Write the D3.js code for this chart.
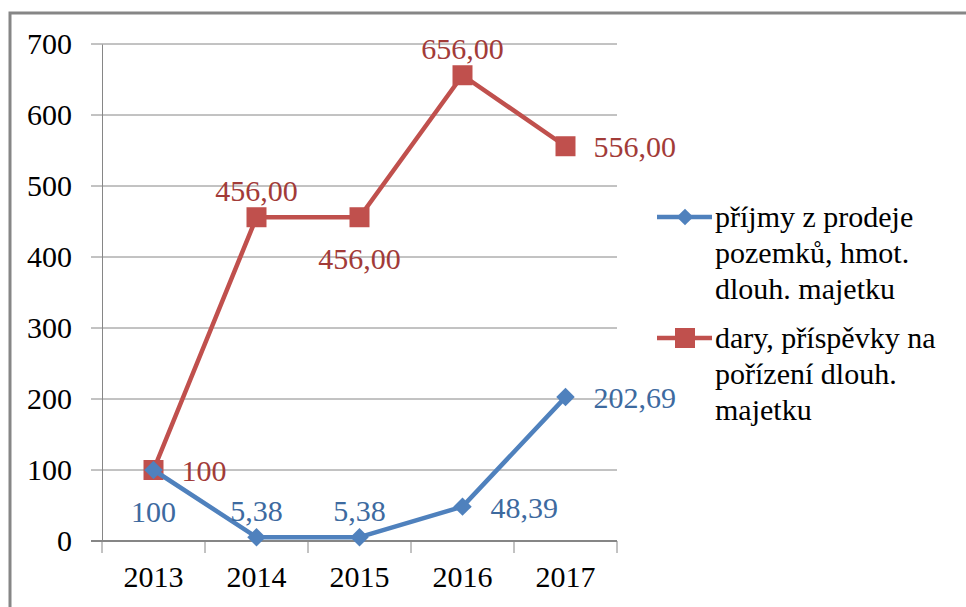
<!DOCTYPE html>
<html>
<head>
<meta charset="utf-8">
<script src="https://cdn.jsdelivr.net/npm/d3@7"></script>
</head>
<body style="margin:0; background:#fff">
<script>
var years = ["2013", "2014", "2015", "2016", "2017"];
var prijmy = [100, 5.38, 5.38, 48.39, 202.69];
var dary = [100, 456, 456, 656, 556];
var prijmyLabels = ["100", "5,38", "5,38", "48,39", "202,69"];
var daryLabels = ["100", "456,00", "456,00", "656,00", "556,00"];
var yTicks = [0, 100, 200, 300, 400, 500, 600, 700];
var legendNames = [
  ["příjmy z prodeje", "pozemků, hmot.", "dlouh. majetku"],
  ["dary, příspěvky na", "pořízení dlouh.", "majetku"]
];

// where each data label sits relative to its point
var prijmyPos = ["below", "above", "above", "right", "right"];
var daryPos = ["right", "above", "below", "above", "right"];

var W = 966, H = 607;
var blue = "#4f81bd", red = "#c0504d";
var blueText = "#3d6a9f", redText = "#a23b38";
var serif = "'Liberation Serif'";

var svg = d3.select("body").append("svg").attr("width", W).attr("height", H);

var x = d3.scaleBand().domain(years).range([102, 617]).padding(0);
var y = d3.scaleLinear().domain([0, 700]).range([541, 44]);
var cx = function(i){ return x(years[i]) + x.bandwidth() / 2; };

// place text without text-anchor/dy: shift by measured width
function anchor(sel, how) {
  sel.each(function() {
    var w = this.getComputedTextLength();
    var x0 = +this.getAttribute("x");
    var a = typeof how === "function" ? how.apply(this, arguments) : how;
    if (a == "middle") this.setAttribute("x", x0 - w / 2);
    if (a == "end") this.setAttribute("x", x0 - w);
  });
}

// outer frame
svg.append("rect").attr("x", 10).attr("y", 13).attr("width", 980).attr("height", 620)
  .attr("fill", "none").attr("stroke", "#868686").attr("stroke-width", 3);

// gridlines
svg.append("g").selectAll("line").data(yTicks).enter().append("line")
  .attr("x1", 91).attr("x2", 617)
  .attr("y1", function(d){ return y(d); }).attr("y2", function(d){ return y(d); })
  .attr("stroke", "#868686").attr("stroke-width", function(d){ return d == 0 ? 2 : 1; });

// axes lines from d3 axis, labels drawn from the same scales
var yAxis = svg.append("g").attr("transform", "translate(102,0)")
  .call(d3.axisLeft(y).tickValues(yTicks).tickSize(0).tickFormat(""));
yAxis.select(".domain").attr("stroke", "#868686");
yAxis.selectAll("text").remove();

var yLab = svg.append("g").selectAll("text").data(yTicks).enter().append("text")
  .attr("x", 72).attr("y", function(d){ return y(d) + 10; })
  .attr("font-size", 30).attr("fill", "#000")
  .style("font-family", serif)
  .text(function(d){ return y.tickFormat()(d); });
anchor(yLab, "end");

var xLab = svg.append("g").selectAll("text").data(years).enter().append("text")
  .attr("x", function(d, i){ return cx(i); }).attr("y", 587)
  .attr("font-size", 30).attr("fill", "#000")
  .style("font-family", serif)
  .text(function(d){ return d; });
anchor(xLab, "middle");

svg.append("g").selectAll("line").data(years.concat(["end"])).enter().append("line")
  .attr("x1", function(d, i){ return x.range()[0] + i * x.bandwidth(); })
  .attr("x2", function(d, i){ return x.range()[0] + i * x.bandwidth(); })
  .attr("y1", y(0)).attr("y2", y(0) + 12)
  .attr("stroke", "#868686").attr("stroke-width", 1);

var line = d3.line().x(function(d, i){ return cx(i); }).y(function(d){ return y(d); });

function drawSeries(vals, color, diamond, size) {
  svg.append("path").datum(vals).attr("d", line)
    .attr("fill", "none").attr("stroke", color).attr("stroke-width", 4.5)
    .attr("stroke-linejoin", "round");
  svg.append("g").selectAll("path").data(vals).enter().append("path")
    .attr("d", d3.symbol().type(d3.symbolSquare).size(size))
    .attr("transform", function(d, i){
      return "translate(" + cx(i) + "," + y(d) + ")" + (diamond ? " rotate(45)" : "");
    })
    .attr("fill", color);
}
drawSeries(dary, red, false, 400);
drawSeries(prijmy, blue, true, 170);

function drawLabels(vals, labels, pos, color) {
  var t = svg.append("g").selectAll("text").data(vals).enter().append("text")
    .attr("x", function(d, i){ return pos[i] == "right" ? cx(i) + 28 : cx(i); })
    .attr("y", function(d, i){
      if (pos[i] == "above") return y(d) - 16;
      if (pos[i] == "below") return y(d) + 52;
      return y(d) + 11;
    })
    .attr("font-size", 30).attr("fill", color)
    .style("font-family", serif)
    .text(function(d, i){ return labels[i]; });
  anchor(t, function(d, i){ return pos[i] == "right" ? "start" : "middle"; });
}
drawLabels(dary, daryLabels, daryPos, redText);
drawLabels(prijmy, prijmyLabels, prijmyPos, blueText);

// legend
var legendY = [217, 338];
var legendColors = [blue, red];
legendNames.forEach(function(lines, k) {
  var g = svg.append("g");
  g.append("line").attr("x1", 657).attr("x2", 712)
    .attr("y1", legendY[k]).attr("y2", legendY[k])
    .attr("stroke", legendColors[k]).attr("stroke-width", 4.5);
  g.append("path")
    .attr("d", d3.symbol().type(d3.symbolSquare).size(k == 0 ? 140 : 400))
    .attr("transform", "translate(685," + legendY[k] + ")" + (k == 0 ? " rotate(45)" : ""))
    .attr("fill", legendColors[k]);
  g.selectAll("text").data(lines).enter().append("text")
    .attr("x", 715).attr("y", function(d, i){ return legendY[k] + 10 + i * 36; })
    .attr("font-size", 30).attr("fill", "#000")
    .style("font-family", serif)
    .text(function(d){ return d; });
});
</script>
</body>
</html>
